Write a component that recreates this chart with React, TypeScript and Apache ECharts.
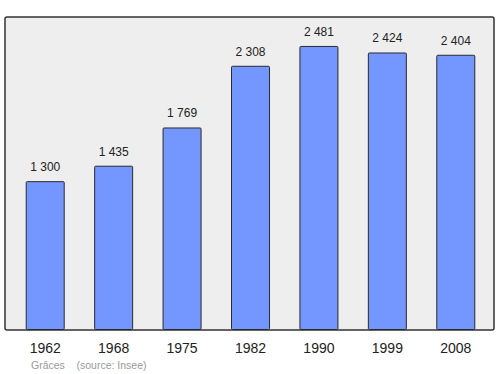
import React, { useEffect, useRef } from "react";
import * as echarts from "echarts";

const years = ["1962", "1968", "1975", "1982", "1990", "1999", "2008"];
const population = [1300, 1435, 1769, 2308, 2481, 2424, 2404];
const labels = ["1 300", "1 435", "1 769", "2 308", "2 481", "2 424", "2 404"];
const footer = "Grâces    (source: Insee)";

export default function App() {
  const ref = useRef<HTMLDivElement>(null);
  useEffect(() => {
    const chart = echarts.init(ref.current!, null, { renderer: "svg" });
    chart.setOption({
      animation: false,
      backgroundColor: "#ffffff",
      graphic: [
        {
          type: "rect",
          shape: { x: 5, y: 17, width: 489, height: 313, r: 2 },
          style: { fill: "#eeeeee", stroke: "#333333", lineWidth: 1.5 },
          z: -10,
          silent: true,
        },
        {
          type: "text",
          left: 31,
          top: 359,
          style: {
            text: footer,
            fill: "#9a9a9a",
            font: "10.5px 'Liberation Sans', Arial, sans-serif",
          },
        },
      ],
      grid: { left: 11, right: 10, top: 17, bottom: 44, containLabel: false },
      xAxis: {
        type: "category",
        data: years,
        axisLine: { show: false },
        axisTick: { show: false },
        axisLabel: {
          margin: 11,
          fontSize: 14,
          color: "#222",
          fontFamily: "'Liberation Sans', Arial, sans-serif",
        },
      },
      yAxis: {
        type: "value",
        min: 0,
        max: 2734,
        show: false,
        splitLine: { show: false },
      },
      series: [
        {
          type: "bar",
          data: population,
          barWidth: 39,
          itemStyle: {
            color: "#7397ff",
            borderColor: "#2a2a2a",
            borderWidth: 1,
            borderRadius: 1,
          },
          label: {
            show: true,
            position: "top",
            distance: 8,
            formatter: (p: any) => labels[p.dataIndex],
            fontSize: 12,
            color: "#222",
            fontFamily: "'Liberation Sans', Arial, sans-serif",
          },
        },
      ],
    });
    return () => chart.dispose();
  }, []);
  return <div ref={ref} style={{ width: 500, height: 374, position: "absolute", left: 0, top: 0 }} />;
}
